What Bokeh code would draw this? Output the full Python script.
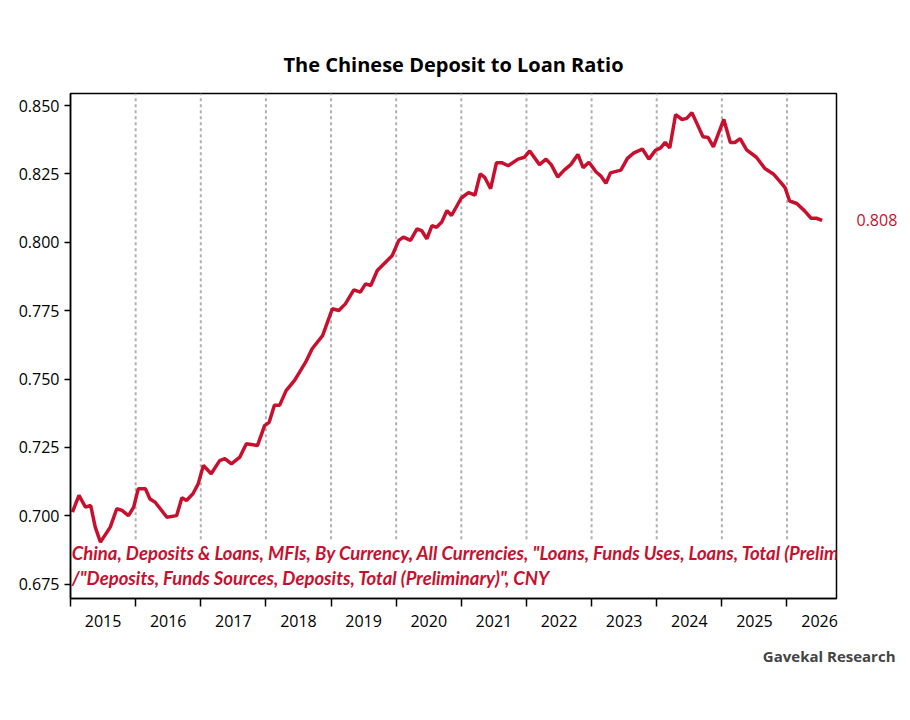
from bokeh.plotting import figure
from bokeh.models import (Range1d, FixedTicker, LinearAxis, Title, CustomJSTickFormatter)
from bokeh.core.properties import value
from bokeh.embed import file_html
from bokeh.resources import INLINE

dates = [2015.03, 2015.13, 2015.23, 2015.31, 2015.38, 2015.46, 2015.61, 2015.71, 2015.79, 2015.89, 2015.97,
         2016.04, 2016.15, 2016.22, 2016.30, 2016.48, 2016.63, 2016.71, 2016.78, 2016.88, 2016.96,
         2017.04, 2017.16, 2017.29, 2017.37, 2017.47, 2017.60, 2017.70, 2017.87, 2017.98,
         2018.05, 2018.13, 2018.21, 2018.31, 2018.44, 2018.61, 2018.71, 2018.87,
         2019.02, 2019.12, 2019.22, 2019.35, 2019.45, 2019.53, 2019.61, 2019.71, 2019.81, 2019.94,
         2020.04, 2020.11, 2020.22, 2020.32, 2020.39, 2020.47, 2020.55, 2020.62, 2020.70, 2020.78, 2020.85,
         2021.00, 2021.11, 2021.21, 2021.29, 2021.36, 2021.45, 2021.54, 2021.62, 2021.72, 2021.87, 2021.97,
         2022.05, 2022.20, 2022.30, 2022.38, 2022.48, 2022.58, 2022.68, 2022.79, 2022.87, 2022.96,
         2023.07, 2023.14, 2023.22, 2023.29, 2023.45, 2023.55, 2023.65, 2023.78, 2023.88, 2023.98,
         2024.06, 2024.13, 2024.20, 2024.29, 2024.39, 2024.46, 2024.54, 2024.62, 2024.71, 2024.79, 2024.87, 2024.95,
         2025.03, 2025.13, 2025.20, 2025.28, 2025.38, 2025.53, 2025.66, 2025.79, 2025.89, 2025.97,
         2026.04, 2026.15, 2026.27, 2026.37, 2026.45, 2026.54]
ratio = [0.7014, 0.7075, 0.7032, 0.7038, 0.6959, 0.6904, 0.6959, 0.7026, 0.7020, 0.7001, 0.7032,
         0.7099, 0.7099, 0.7062, 0.7050, 0.6995, 0.7001, 0.7066, 0.7056, 0.7081, 0.7117,
         0.7184, 0.7154, 0.7202, 0.7209, 0.7190, 0.7215, 0.7264, 0.7257, 0.7330,
         0.7342, 0.7404, 0.7404, 0.7458, 0.7495, 0.7562, 0.7611, 0.7659,
         0.7757, 0.7751, 0.7775, 0.7826, 0.7818, 0.7848, 0.7842, 0.7897, 0.7921, 0.7952,
         0.8007, 0.8019, 0.8007, 0.8049, 0.8043, 0.8013, 0.8061, 0.8055, 0.8074, 0.8116, 0.8098,
         0.8162, 0.8182, 0.8173, 0.8250, 0.8237, 0.8196, 0.8291, 0.8291, 0.8280, 0.8304, 0.8311,
         0.8334, 0.8284, 0.8304, 0.8284, 0.8239, 0.8264, 0.8284, 0.8321, 0.8273, 0.8293,
         0.8257, 0.8243, 0.8216, 0.8254, 0.8264, 0.8307, 0.8327, 0.8341, 0.8304, 0.8336,
         0.8345, 0.8365, 0.8345, 0.8467, 0.8449, 0.8453, 0.8474, 0.8433, 0.8386, 0.8383, 0.8349, 0.8399,
         0.8449, 0.8365, 0.8365, 0.8379, 0.8338, 0.8311, 0.8270, 0.8250, 0.8223, 0.8200,
         0.8151, 0.8142, 0.8115, 0.8088, 0.8088, 0.8080]
years = list(range(2015, 2027))
y_ticks = [0.675, 0.700, 0.725, 0.750, 0.775, 0.800, 0.825, 0.850]
last_label = "0.808"
note1 = 'China, Deposits & Loans, MFIs, By Currency, All Currencies, "Loans, Funds Uses, Loans, Total (Preliminary)"'
note2 = '/"Deposits, Funds Sources, Deposits, Total (Preliminary)", CNY'

RED = "#c8102e"
p = figure(width=900, height=682, output_backend="svg", toolbar_location=None,
           x_range=Range1d(2015, 2026.76), y_range=Range1d(0.6698, 0.8544),
           min_border_left=70, min_border_right=60, min_border_top=93, min_border_bottom=84,
           background_fill_color="white", border_fill_color="white")
p.title.text = "The Chinese Deposit to Loan Ratio"
p.title.align = "center"
p.title.text_font = "Open Sans"
p.title.text_font_size = "20px"
p.title.text_font_style = "bold"
p.title.text_color = "black"
p.title.standoff = 32
p.outline_line_color = "black"
p.outline_line_width = 1.5
p.grid.visible = False

# dashed vertical year lines
p.segment(x0=years[1:], x1=years[1:], y0=[0.6915] * 11, y1=[0.8544] * 11,
          line_color="#b0b0b0", line_width=2, line_dash="3 3")

p.line(dates, ratio, line_color=RED, line_width=3.5)

p.text(x=[2015.02, 2015.02], y=[0.6866, 0.6774], text=[note1, note2],
       text_font=value("Lato"), text_font_size="18.5px", text_font_style="bold italic",
       text_color=RED, text_baseline="middle")

# y axis
p.yaxis.ticker = FixedTicker(ticks=y_ticks)
p.yaxis.formatter = CustomJSTickFormatter(code="return tick.toFixed(3);")
p.yaxis.major_label_text_font = "Open Sans"
p.yaxis.major_label_text_font_size = "16px"
p.yaxis.major_label_text_color = "black"
p.yaxis.axis_line_width = 1.5
p.yaxis.major_tick_in = 0
p.yaxis.major_tick_out = 6
p.yaxis.major_tick_line_width = 1.5
p.yaxis.minor_tick_line_color = None

# x axis: tick marks at year boundaries (minor), labels at mid-year
p.xaxis.ticker = FixedTicker(ticks=[y + 0.5 for y in years], minor_ticks=years)
p.xaxis.formatter = CustomJSTickFormatter(code="return Math.floor(tick).toString();")
p.xaxis.major_tick_line_color = None
p.xaxis.minor_tick_in = 0
p.xaxis.minor_tick_out = 8
p.xaxis.minor_tick_line_width = 1.5
p.xaxis.minor_tick_line_color = "black"
p.xaxis.axis_line_width = 1.5
p.xaxis.major_label_text_font = "Open Sans"
p.xaxis.major_label_text_font_size = "16px"
p.xaxis.major_label_text_color = "black"
p.xaxis.major_label_standoff = 8

# last value label on right
r_axis = LinearAxis(ticker=FixedTicker(ticks=[ratio[-1]]),
                    major_label_overrides={ratio[-1]: last_label},
                    axis_line_color=None, major_tick_line_color=None, minor_tick_line_color=None,
                    major_label_text_color=RED, major_label_text_font="Open Sans",
                    major_label_text_font_size="16px", major_label_standoff=14)
p.add_layout(r_axis, "right")

src = Title(text="Gavekal Research", align="right", text_font="Open Sans",
            text_font_size="15px", text_font_style="bold", offset=-59, standoff=28)
p.add_layout(src, "below")

open("out.html", "w").write(file_html(p, INLINE))
